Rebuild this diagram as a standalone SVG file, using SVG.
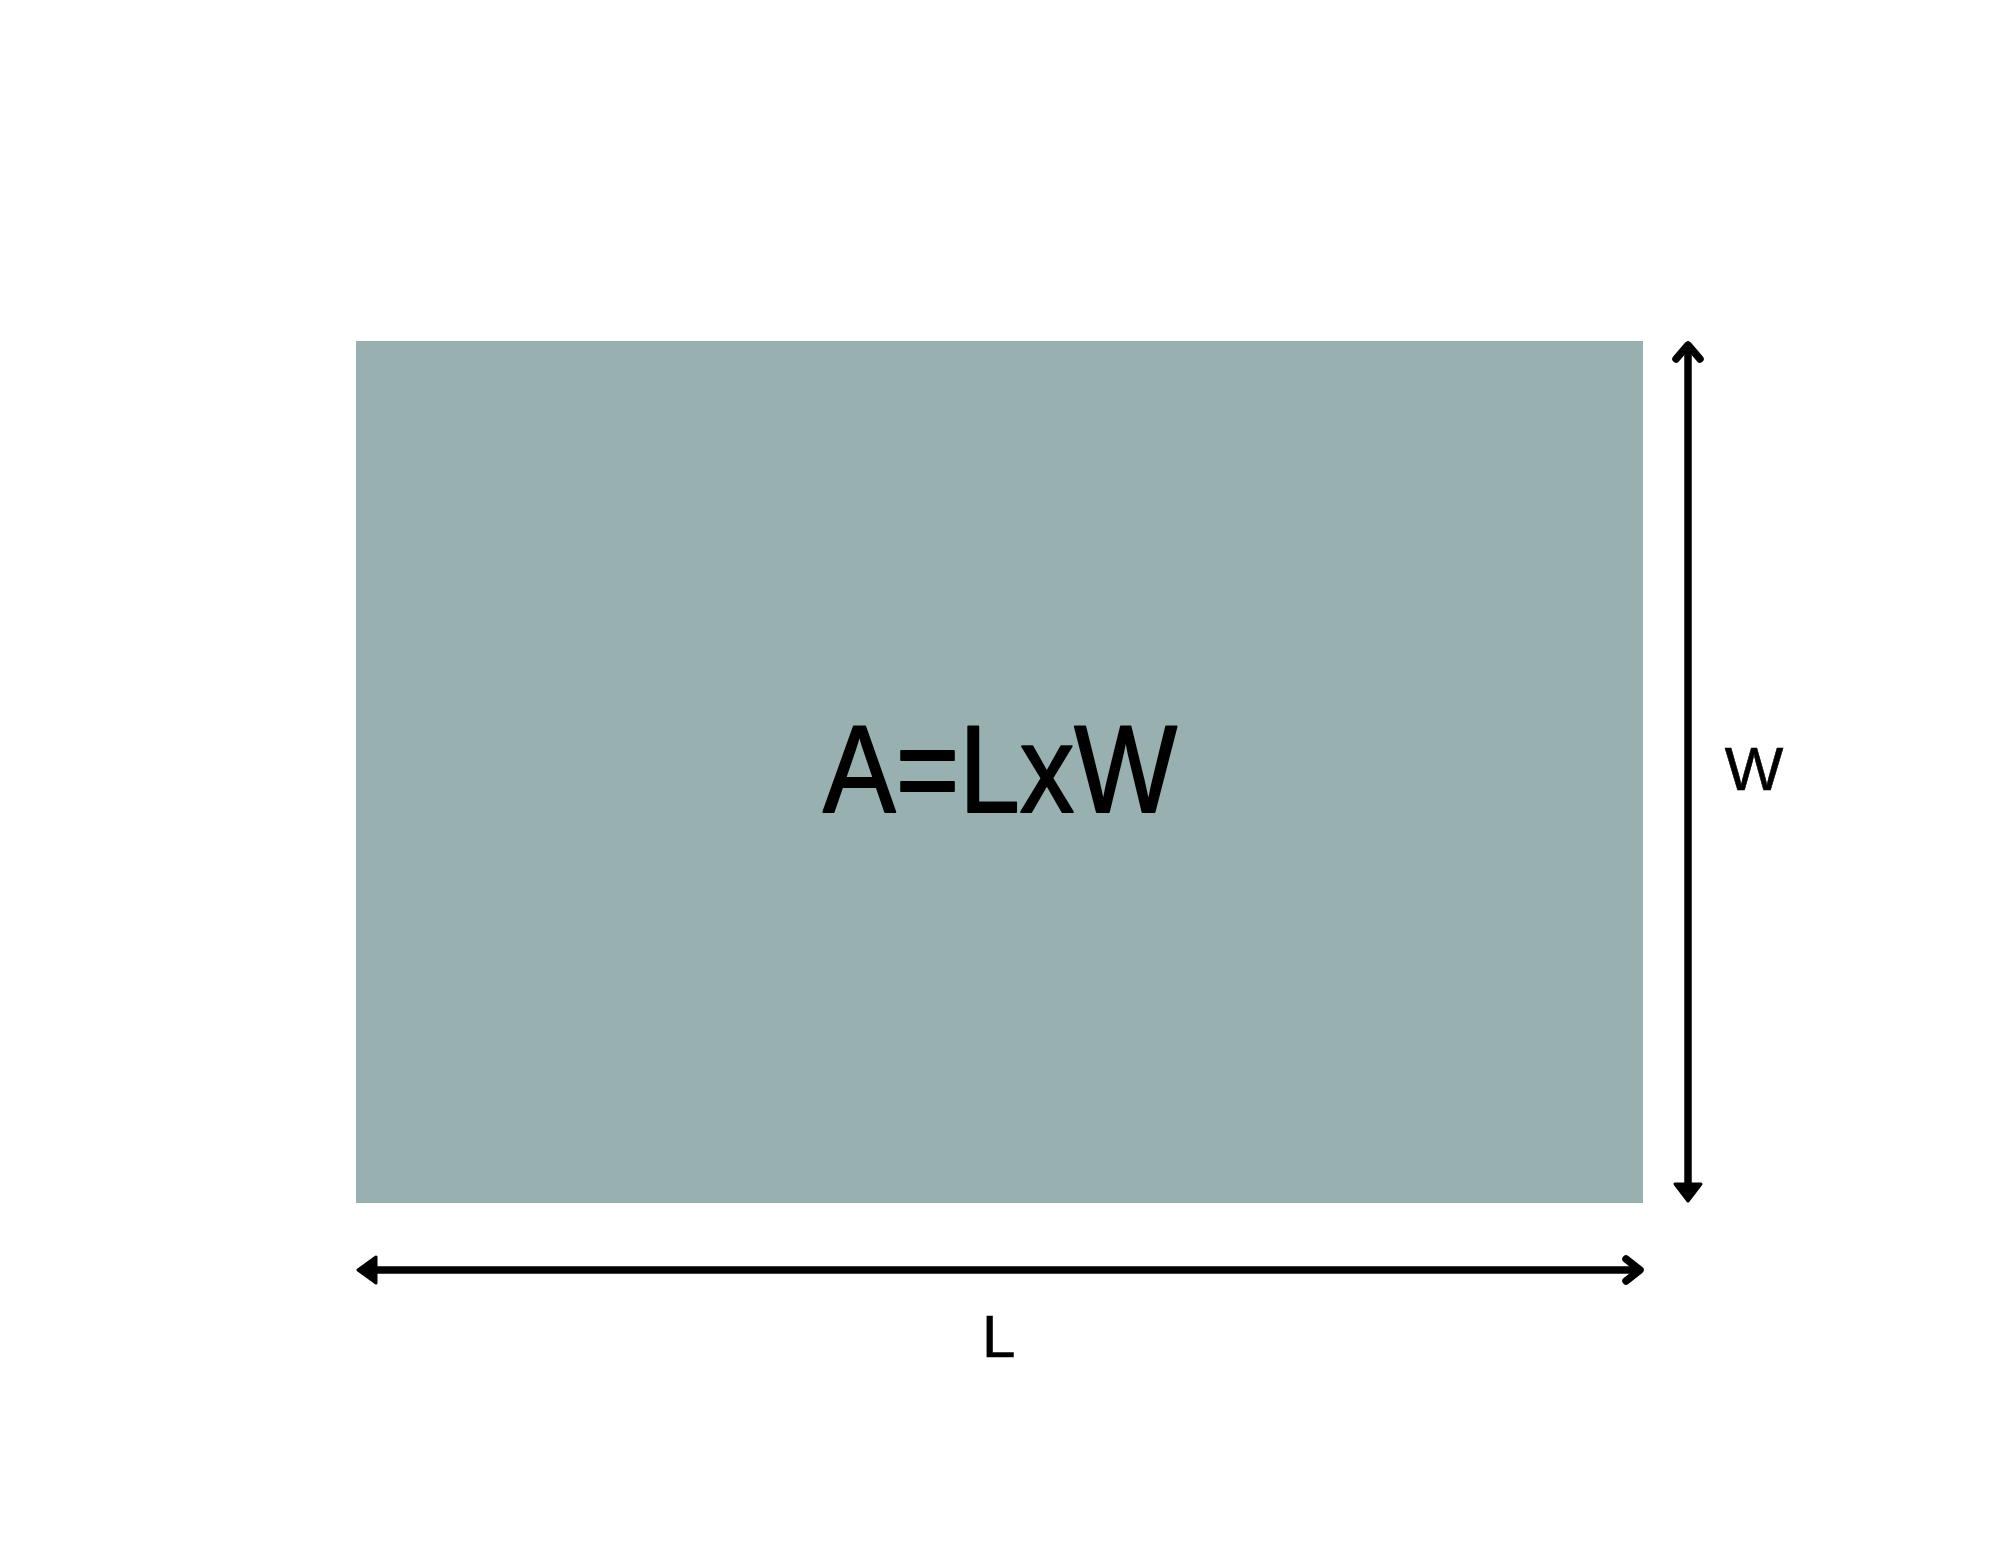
<svg xmlns="http://www.w3.org/2000/svg" width="1999" height="1545" viewBox="0 0 1999 1545">
<style>
.shaft{stroke:#000;stroke-width:7.5;fill:none;stroke-linecap:butt}
.chev{stroke:#000;stroke-width:7.5;fill:none;stroke-linecap:round;stroke-linejoin:round}
.tri{stroke:#000;stroke-width:3;fill:#000;stroke-linejoin:round}
.lbl{font-family:"Liberation Sans",Arial,sans-serif;fill:#000}
</style>
<rect width="1999" height="1545" fill="#ffffff"/>
<g id="area">
<rect x="356" y="341" width="1287" height="862" fill="#99b0b1"/>
<text class="lbl" x="823" y="812" font-size="125" textLength="354" lengthAdjust="spacingAndGlyphs" stroke="#000" stroke-width="2" stroke-linejoin="round">A=LxW</text>
</g>
<g id="label-w">
<text class="lbl" x="1754" y="790" font-size="62" text-anchor="middle" stroke="#000" stroke-width="0.6">W</text>
</g>
<g id="label-l">
<text class="lbl" x="982" y="1357" font-size="60" stroke="#000" stroke-width="0.6">L</text>
</g>
<g id="connectors">
<g id="width-arrow">
<line class="shaft" x1="1688" y1="347" x2="1688" y2="1186"/>
<polyline class="chev" points="1676,359 1688,345 1700,359"/>
<polygon class="tri" points="1675,1184 1701,1184 1688,1201"/>
</g>
<g id="length-arrow">
<line class="shaft" x1="374" y1="1270" x2="1638" y2="1270"/>
<polygon class="tri" points="376,1257 376,1283 358,1270"/>
<polyline class="chev" points="1626,1259 1640,1270 1626,1281"/>
</g>
</g>
</svg>
